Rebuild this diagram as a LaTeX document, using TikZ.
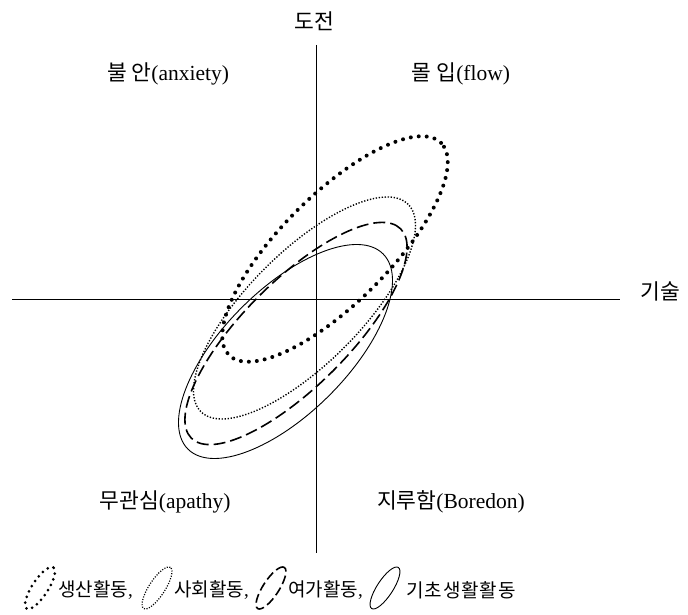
\documentclass[tikz,border=0pt]{standalone}
\usepackage{fontspec}
\setmainfont{Liberation Serif}
\newfontfamily\kr{Noto Sans CJK KR}
\newfontfamily\krwide[LetterSpace=5]{Noto Sans CJK KR}
\tikzset{
  axisline/.style={line width=1.5pt},
  lbl/.style={inner sep=0pt, font=\fontsize{21.5}{24}\selectfont},
  leg/.style={inner sep=0pt, anchor=west, font=\fontsize{19}{22}\selectfont},
  prodline/.style={line width=4pt, line cap=round, dash pattern=on 0pt off 8pt},
  socline/.style={line width=1.4pt, dash pattern=on 1.3pt off 1.7pt},
  leisline/.style={line width=1.6pt, dash pattern=on 12pt off 5pt},
  basicline/.style={line width=0.9pt},
  prodicon/.style={line width=3pt, line cap=round, dash pattern=on 0pt off 6pt},
  socicon/.style={line width=1.2pt, dash pattern=on 1.1pt off 1.5pt},
  leisicon/.style={line width=1.6pt, dash pattern=on 9pt off 4pt},
  basicicon/.style={line width=0.9pt}
}
\begin{document}
\begin{tikzpicture}[x=1pt,y=1pt]
\useasboundingbox (0,0) rectangle (688,615);
% axes
\coordinate (vtop) at (316.5,570);
\coordinate (vbot) at (316.5,62);
\coordinate (hl) at (12,315.7);
\coordinate (hr) at (620,315.7);
\draw[axisline] (vtop) -- (vbot);
\draw[axisline] (hl) -- (hr);
% axis labels
\node[lbl] (challenge) at (314,594) {\kr 도전};
\node[lbl] (skill) at (660,324) {\kr 기술};
% quadrant labels
\node[lbl] (anx) at (168,541) {{\kr 불 안}(anxiety)};
\node[lbl] (flow) at (461,541) {{\kr 몰 입}(flow)};
\node[lbl] (apa) at (165,113) {{\kr 무관심}(apathy)};
\node[lbl] (bor) at (451,113) {{\kr 지루함}(Boredon)};
% ellipses
\draw[prodline] (335,366) ellipse [x radius=150, y radius=54, rotate=45];
\draw[socline] (304.5,307) ellipse [x radius=146.6, y radius=56, rotate=45];
\draw[leisline] (296,281.5) ellipse [x radius=148, y radius=52.6, rotate=45];
\draw[basicline] (285.5,263.5) ellipse [x radius=138, y radius=62, rotate=45];
% legend
\draw[prodicon] (40,27) ellipse [x radius=24.5, y radius=8, rotate=57];
\node[leg] (l1) at (58,25) {{\kr 생산활동},};
\draw[socicon] (157,27) ellipse [x radius=24.5, y radius=8, rotate=57];
\node[leg] (l2) at (174,25) {{\kr 사회활동},};
\draw[leisicon] (271,27) ellipse [x radius=24.5, y radius=8, rotate=57];
\node[leg] (l3) at (288,25) {{\kr 여가활동},};
\draw[basicicon] (385,27) ellipse [x radius=24.5, y radius=8, rotate=57];
\node[leg] (l4) at (406,25) {\krwide 기초생활활동};
\end{tikzpicture}
\end{document}
